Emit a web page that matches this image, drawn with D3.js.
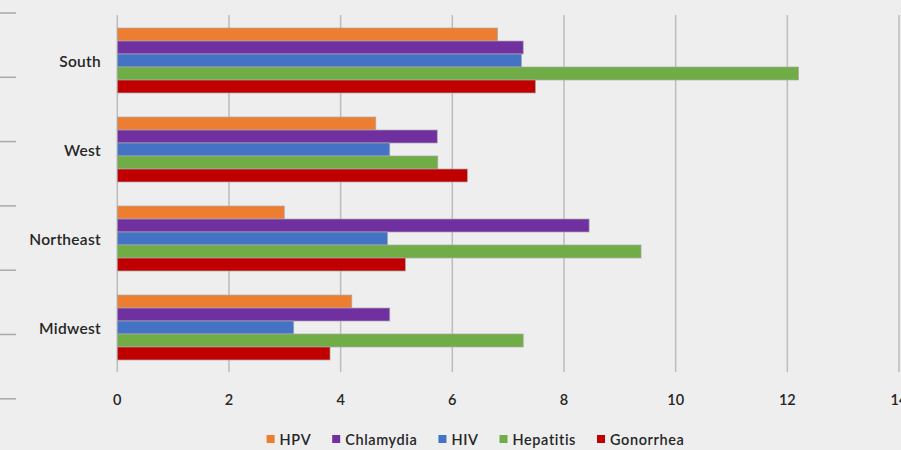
<!DOCTYPE html>
<html>
<head>
<meta charset="utf-8">
<script src="https://cdn.jsdelivr.net/npm/d3@7"></script>
<style>
  html, body { margin: 0; padding: 0; background: #eeeeee; }
  svg { display: block; }
  text { font-family: Lato, "Open Sans", sans-serif; fill: #262626; }
</style>
</head>
<body>
<svg id="chart" width="901" height="450"></svg>
<script>
// Regions, top to bottom
const regions = ["South", "West", "Northeast", "Midwest"];
// Diseases, in drawing order within each region
const diseases = ["HPV", "Chlamydia", "HIV", "Hepatitis", "Gonorrhea"];
const colors = ["#ED7D31", "#7030A0", "#4472C4", "#70AD47", "#C00000"];

// Rates per disease, listed in region order
const hpv       = [6.81, 4.63, 2.99, 4.20];
const chlamydia = [7.27, 5.73, 8.45, 4.88];
const hiv       = [7.24, 4.88, 4.84, 3.16];
const hepatitis = [12.20, 5.74, 9.38, 7.27];
const gonorrhea = [7.49, 6.27, 5.16, 3.81];

const xTicks = [0, 2, 4, 6, 8, 10, 12, 14];

const seriesValues = [hpv, chlamydia, hiv, hepatitis, gonorrhea];
const rows = [];
regions.forEach((r, i) => {
  diseases.forEach((d, j) => rows.push({ region: r, disease: d, value: seriesValues[j][i], color: colors[j] }));
});

const svg = d3.select("#chart");

const x = d3.scaleLinear().domain([0, 14]).range([117.3, 899]);
const y = d3.scaleBand().domain(regions).range([16, 372]).paddingInner(0.27).paddingOuter(0.135);
const y1 = d3.scaleBand().domain(diseases).range([0, y.bandwidth()]).padding(0);

// Stray tick marks on the far left
const leftTicks = d3.range(7);
svg.append("g").selectAll("line").data(leftTicks).join("line")
  .attr("x1", 0).attr("x2", 16)
  .attr("y1", d => 13 + d * 64.3).attr("y2", d => 13 + d * 64.3)
  .attr("stroke", "#a8a8a8").attr("stroke-width", 1.5);

// Vertical gridlines (the 0 line doubles as the category axis)
svg.append("g").selectAll("line").data(xTicks).join("line")
  .attr("x1", d => x(d)).attr("x2", d => x(d))
  .attr("y1", 15).attr("y2", 372)
  .attr("stroke", "#bcbcbc").attr("stroke-width", 1.5);

// Bars
svg.append("g").selectAll("rect").data(rows).join("rect")
  .attr("x", x(0))
  .attr("y", d => y(d.region) + y1(d.disease))
  .attr("width", d => x(d.value) - x(0))
  .attr("height", y1.bandwidth())
  .attr("fill", d => d.color)
  .attr("stroke", "#a9a9a9").attr("stroke-width", 0.7);

// Value axis labels
svg.append("g").selectAll("text").data(xTicks).join("text")
  .attr("x", d => x(d)).attr("y", 399)
  .attr("text-anchor", "middle").attr("dominant-baseline", "central")
  .attr("font-size", 14.5).attr("font-weight", 600)
  .text(d => d);

// Region labels
svg.append("g").selectAll("text").data(regions).join("text")
  .attr("x", 101).attr("y", d => y(d) + y.bandwidth() / 2)
  .attr("text-anchor", "end").attr("dominant-baseline", "central")
  .attr("font-size", 15.5).attr("font-weight", 600).attr("letter-spacing", 0.3)
  .text(d => d);

// Legend, laid out left to right and centred under the plot
const legend = svg.append("g");
const items = legend.selectAll("g").data(diseases).join("g");
items.append("rect")
  .attr("width", 8).attr("height", 8).attr("y", -4)
  .attr("fill", (d, i) => colors[i]);
items.append("text")
  .attr("x", 13).attr("dominant-baseline", "central")
  .attr("font-size", 14.5).attr("font-weight", 600).attr("letter-spacing", 0.6)
  .text(d => d);
let cursor = 0;
items.each(function () {
  const g = d3.select(this);
  g.attr("transform", `translate(${cursor},0)`);
  cursor += 13 + g.select("text").node().getComputedTextLength() + 21;
});
const legendWidth = cursor - 21;
legend.attr("transform", `translate(${475.5 - legendWidth / 2},439)`);
</script>
</body>
</html>
